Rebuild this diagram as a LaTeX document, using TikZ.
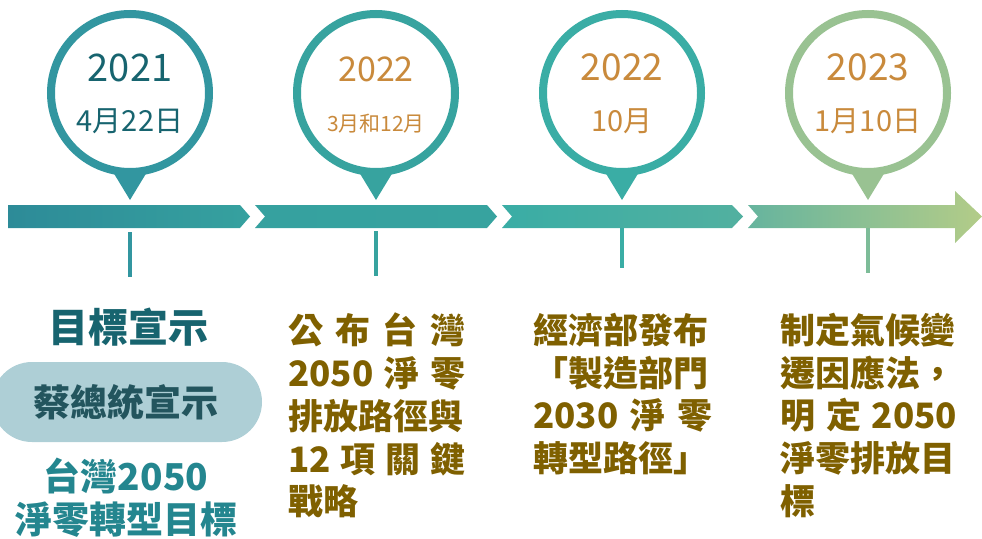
\documentclass[tikz,border=0pt]{standalone}
\usepackage{fontspec}
\setmainfont{Noto Sans CJK TC}
\definecolor{barA}{HTML}{2D8B98}
\definecolor{barB}{HTML}{36A19F}
\definecolor{barC}{HTML}{52B0A0}
\definecolor{barD}{HTML}{66B49E}
\definecolor{barE}{HTML}{B3CC88}
\definecolor{ringA}{HTML}{3296A0}
\definecolor{ringB}{HTML}{37A39F}
\definecolor{ringC}{HTML}{3AADA5}
\definecolor{ringD}{HTML}{99C292}
\definecolor{tealtext}{HTML}{17646F}
\definecolor{orangetext}{HTML}{C98A3C}
\definecolor{olivetext}{HTML}{7F6000}
\definecolor{pillfill}{HTML}{AECFD6}
\definecolor{pilltext}{HTML}{23555E}
\definecolor{goaltext}{HTML}{24868F}
\tikzset{
  ring/.style={circle, draw=#1, line width=8pt, fill=white, minimum size=158pt, inner sep=0pt},
  pin/.style={fill=#1},
  stem/.style={draw=#1, line width=3.5pt},
  yeartext/.style={inner sep=0pt, font=\fontsize{#1}{#1}\selectfont},
  bodytext/.style={inner sep=0pt, anchor=north west, text width=180pt, align=left,
    text=olivetext, font=\fontsize{35}{42.7}\selectfont\bfseries},
}
\begin{document}
\begin{tikzpicture}[x=1pt,y=-1pt]
\useasboundingbox (0,0) rectangle (982,538);

% Drawing the time bar
\shade [left color=barA, right color=barB] (8,205) -- (240,205) -- (250,216.5) -- (240,228) -- (8,228) -- cycle;%
\shade [left color=barB, right color=ringB] (255,205) -- (487,205) -- (497,216.5) -- (487,228) -- (255,228) -- (265,216.5) -- cycle;%
\shade [left color=ringC, middle color=ringC, right color=barC] (502,205) -- (732,205) -- (743,216.5) -- (732,228) -- (502,228) -- (512,216.5) -- cycle;%
\shade [left color=barD, right color=barE] (748,205) -- (955,205) -- (955,191) -- (982,216.5) -- (955,243) -- (955,228) -- (748,228) -- (758,216.5) -- cycle;%

% Marking year 2021 by circle
\fill [pin=ringA] (113,172) -- (147,172) -- (130,200) -- cycle;%
\node [ring=ringA] (c1) at (130,93) {};%
\node [yeartext=38, text=tealtext] (y1) at (130,67.5) {2021};%
\node [yeartext=29, text=tealtext] (d1) at (130,121) {4月22日};%
\coordinate (s1a) at (130,232);%
\coordinate (s1b) at (130,277);%
\draw [stem=ringA] (s1a) -- (s1b);%

% Marking year 2022 by circle
\fill [pin=ringB] (359,172) -- (393,172) -- (376,200) -- cycle;%
\node [ring=ringB] (c2) at (376,93) {};%
\node [yeartext=34, text=orangetext] (y2) at (376,69) {2022};%
\node [yeartext=21, text=orangetext] (d2) at (376,124) {3月和12月};%
\coordinate (s2a) at (376,231);%
\coordinate (s2b) at (376,276);%
\draw [stem=ringB] (s2a) -- (s2b);%

% Marking year 2022 by circle
\fill [pin=ringC] (605,172) -- (639,172) -- (622,200) -- cycle;%
\node [ring=ringC] (c3) at (622,93) {};%
\node [yeartext=37, text=orangetext] (y3) at (622,67.5) {2022};%
\node [yeartext=29, text=orangetext] (d3) at (622,121) {10月};%
\coordinate (s3a) at (622,228);%
\coordinate (s3b) at (622,268);%
\draw [stem=ringC] (s3a) -- (s3b);%

% Marking year 2023 by circle
\fill [pin=ringD] (851,172) -- (885,172) -- (868,200) -- cycle;%
\node [ring=ringD] (c4) at (868,93) {};%
\node [yeartext=37, text=orangetext] (y4) at (868,67.5) {2023};%
\node [yeartext=29, text=orangetext] (d4) at (868,121) {1月10日};%
\coordinate (s4a) at (868,228);%
\coordinate (s4b) at (868,273);%
\draw [stem=ringD!70!ringC] (s4a) -- (s4b);%

% Drawing the goal block
\node [inner sep=0pt, text=tealtext, font=\fontsize{40}{40}\selectfont\bfseries] (goal) at (128,327) {目標宣示};%
\fill [pillfill, rounded corners=40pt] (-8,362) rectangle (262,442);%
\node [inner sep=0pt, text=pilltext, font=\fontsize{37}{37}\selectfont\bfseries] (pres) at (126,402) {蔡總統宣示};%
\node [inner sep=0pt, text=goaltext, font=\fontsize{37}{37}\selectfont\bfseries] (tw1) at (126,476) {台灣2050};%
\node [inner sep=0pt, text=goaltext, font=\fontsize{37}{37}\selectfont\bfseries] (tw2) at (126,520) {淨零轉型目標};%

% Drawing the event texts
\node [bodytext] (t2) at (288,313) {\makebox[177pt][s]{公\hfill 布\hfill 台\hfill 灣}\\
  \makebox[177pt][s]{2050\hfill 淨\hfill 零}\\
  排放路徑與\\
  \makebox[177pt][s]{12\hfill 項\hfill 關\hfill 鍵}\\
  戰略};%
\node [bodytext] (t3) at (533,313) {經濟部發布\\
  「製造部門\\
  \makebox[179pt][s]{2030\hfill 淨\hfill 零}\\
  轉型路徑」};%
\node [bodytext] (t4) at (780,313) {制定氣候變\\
  遷因應法，\\
  \makebox[177pt][s]{明\hfill 定\hfill 2050}\\
  淨零排放目\\
  標};%
\end{tikzpicture}
\end{document}
